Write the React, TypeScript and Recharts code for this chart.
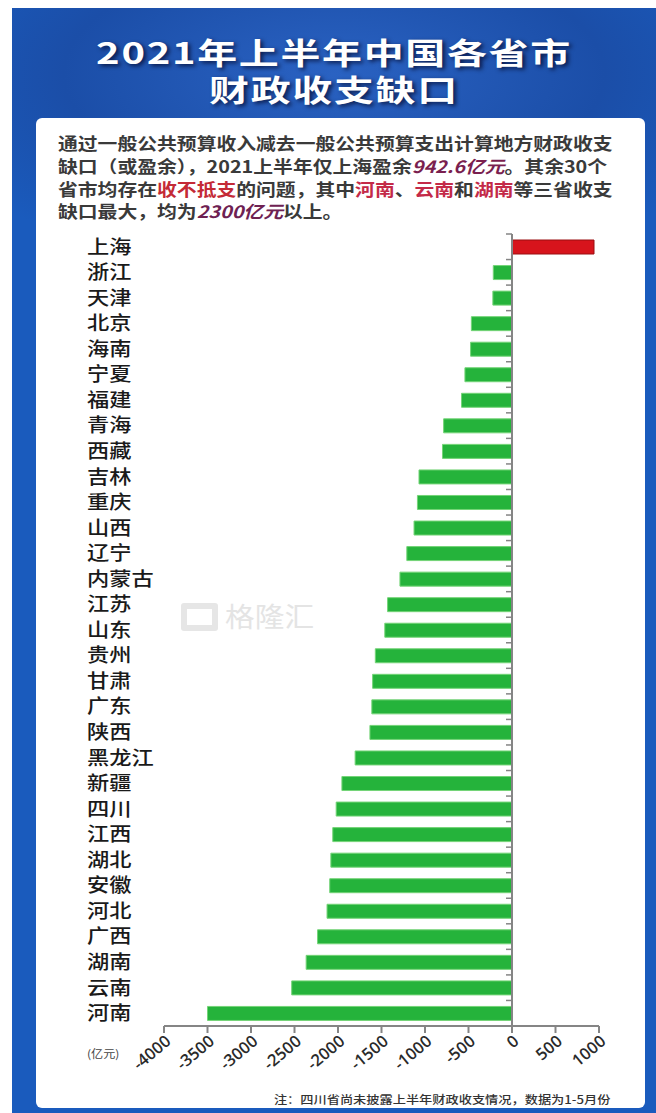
import React from "react";
import { BarChart, Bar, XAxis, YAxis, Cell, ReferenceLine } from "recharts";

// 2021 H1 fiscal balance (revenue - expenditure), 亿元
const provinces = [
  "上海", "浙江", "天津", "北京", "海南", "宁夏", "福建", "青海", "西藏", "吉林",
  "重庆", "山西", "辽宁", "内蒙古", "江苏", "山东", "贵州", "甘肃", "广东", "陕西",
  "黑龙江", "新疆", "四川", "江西", "湖北", "安徽", "河北", "广西", "湖南", "云南", "河南",
];
const balance = [
  942.6, -215, -220, -467, -476, -541, -580, -786, -799, -1069,
  -1087, -1126, -1209, -1288, -1430, -1462, -1571, -1602, -1611, -1633,
  -1803, -1955, -2021, -2060, -2082, -2095, -2126, -2235, -2366, -2532, -3500,
];
const xTicks = [-4000, -3500, -3000, -2500, -2000, -1500, -1000, -500, 0, 500, 1000];

const GREEN = "#25b33b";
const RED = "#d7141c";
const AXIS = "#858585";
const CJK = "'Noto Sans CJK SC', sans-serif";

const data = provinces.map((name, i) => ({ name, value: balance[i] }));

const XTick = (props: any) => {
  const { x, y, payload } = props;
  return (
    <text
      transform={`translate(${x + 8} ${y + 8}) rotate(-40)`}
      textAnchor="end"
      fontSize={16.5}
      fontWeight={600}
      fontFamily="'Open Sans', sans-serif"
      fill="#2a2a2a"
    >
      {payload.value}
    </text>
  );
};

const YTick = (props: any) => {
  const { y, payload } = props;
  return (
    <text
      transform={`translate(87 ${y}) scale(1.17 1)`}
      dy="0.36em"
      fontSize={19}
      fontWeight={500}
      fontFamily={CJK}
      fill="#1a1a1a"
    >
      {payload.value}
    </text>
  );
};

// zero line with small ticks on the category boundaries
const ZeroLine = (props: any) => {
  const { x1, y1, x2, y2 } = props;
  const top = Math.min(y1, y2);
  const bottom = Math.max(y1, y2);
  const band = (bottom - top) / provinces.length;
  return (
    <g>
      <line x1={x1} y1={top} x2={x2} y2={bottom} stroke={AXIS} strokeWidth={2} />
      {provinces.map((p, i) => (
        <line key={p} x1={x1 - 6} x2={x1} y1={top + i * band} y2={top + i * band} stroke={AXIS} strokeWidth={1.5} />
      ))}
    </g>
  );
};

const hl = (color: string, italic = false): React.CSSProperties => ({
  color,
  fontStyle: italic ? "italic" : "normal",
});

const titleLine: React.CSSProperties = {
  position: "absolute",
  left: 12,
  width: 644,
  textAlign: "center",
  color: "#fff",
  fontSize: 30,
  fontWeight: 700,
  lineHeight: "36px",
  letterSpacing: 1.3,
  transform: "scaleX(1.33)",
  transformOrigin: "50% 0",
  textShadow: "2px 2px 4px rgba(0,0,30,0.7)",
};

export default function App() {
  return (
    <div
      style={{
        position: "absolute",
        left: 0,
        top: 0,
        width: 656,
        height: 1113,
        background: "#fff",
        overflow: "hidden",
        fontFamily: CJK,
      }}
    >
      <div
        style={{
          position: "absolute",
          left: 12,
          top: 8,
          width: 644,
          height: 1105,
          background: "radial-gradient(ellipse 70% 18% at 50% 6%, #2a62c2 0%, #1b4ea8 60%, #1a5bbd 100%)",
        }}
      />
      <div style={{ ...titleLine, top: 33 }}>2021年上半年中国各省市</div>
      <div style={{ ...titleLine, top: 70 }}>财政收支缺口</div>

      <div
        style={{
          position: "absolute",
          left: 36,
          top: 118,
          width: 609,
          height: 990,
          background: "#fff",
          borderRadius: 6,
        }}
      />

      <div
        style={{
          position: "absolute",
          left: 58,
          top: 132,
          fontSize: 17,
          fontWeight: 700,
          lineHeight: "22.8px",
          color: "#3a3a3a",
          whiteSpace: "pre",
          transform: "scaleX(1.165)",
          transformOrigin: "0 0",
        }}
      >
        <div>通过一般公共预算收入减去一般公共预算支出计算地方财政收支</div>
        <div>
          缺口（或盈余），2021上半年仅上海盈余<span style={hl("#7a1f4f", true)}>942.6亿元</span>。其余30个
        </div>
        <div>
          省市均存在<span style={hl("#c42a36")}>收不抵支</span>的问题，其中<span style={hl("#c42a48")}>河南</span>、
          <span style={hl("#c42a48")}>云南</span>和<span style={hl("#c42a48")}>湖南</span>等三省收支
        </div>
        <div>
          缺口最大，均为<span style={hl("#6e2152", true)}>2300亿元</span>以上。
        </div>
      </div>

      {/* watermark */}
      <div
        style={{
          position: "absolute",
          left: 181,
          top: 603,
          width: 25,
          height: 16,
          border: "6px solid #e6e6e6",
          borderRadius: 3,
        }}
      />
      <div
        style={{
          position: "absolute",
          left: 225,
          top: 598,
          fontSize: 27,
          color: "#e4e4e4",
          lineHeight: "36px",
          transform: "scaleX(1.1)",
          transformOrigin: "0 0",
        }}
      >
        格隆汇
      </div>

      <div style={{ position: "absolute", left: 0, top: 200 }}>
        <BarChart
          width={656}
          height={900}
          data={data}
          layout="vertical"
          margin={{ top: 34, right: 57, bottom: 14, left: 84 }}
          barSize={14}
        >
          <XAxis
            type="number"
            domain={[-4000, 1000]}
            ticks={xTicks}
            interval={0}
            height={60}
            axisLine={{ stroke: AXIS, strokeWidth: 2 }}
            tickLine={{ stroke: AXIS, strokeWidth: 2 }}
            tickSize={7}
            tick={<XTick />}
          />
          <YAxis
            type="category"
            dataKey="name"
            width={80}
            interval={0}
            axisLine={false}
            tickLine={false}
            tick={<YTick />}
          />
          <Bar dataKey="value" isAnimationActive={false} strokeWidth={1}>
            {data.map((d) => (
              <Cell
                key={d.name}
                fill={d.value > 0 ? RED : GREEN}
                stroke={d.value > 0 ? "#9a0e10" : "#74d477"}
              />
            ))}
          </Bar>
          <ReferenceLine x={0} stroke={AXIS} strokeWidth={2} shape={ZeroLine} />
        </BarChart>
      </div>

      <div
        style={{
          position: "absolute",
          left: 87,
          top: 1045,
          fontSize: 11,
          color: "#444",
          transform: "scaleX(1.1)",
          transformOrigin: "0 0",
        }}
      >
        (亿元)
      </div>

      <div
        style={{
          position: "absolute",
          right: 46,
          top: 1091,
          fontSize: 11,
          fontWeight: 500,
          color: "#333",
          whiteSpace: "pre",
          transform: "scaleX(1.2)",
          transformOrigin: "100% 0",
        }}
      >
        注：四川省尚未披露上半年财政收支情况，数据为1-5月份
      </div>
    </div>
  );
}
